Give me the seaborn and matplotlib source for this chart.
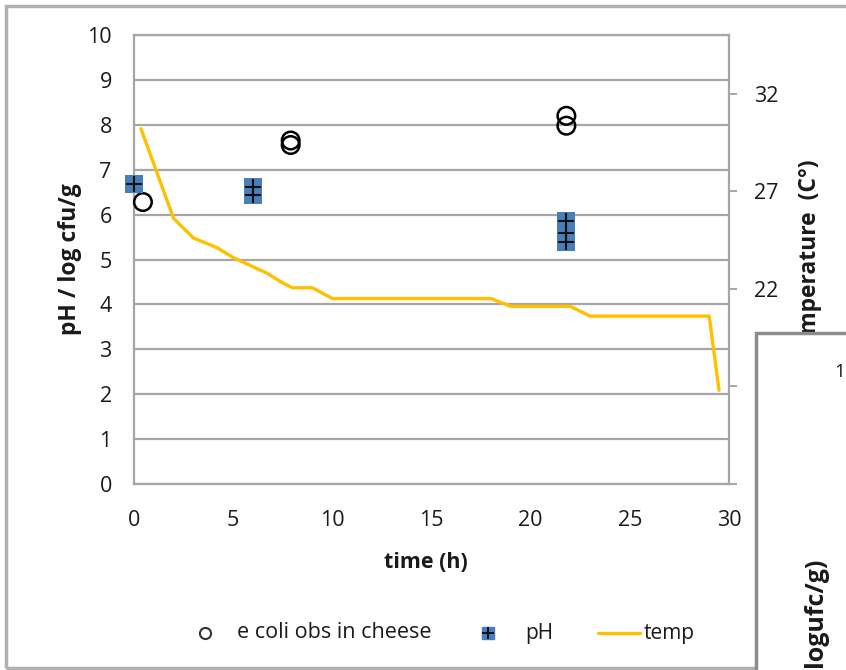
import matplotlib
matplotlib.use("Agg")
import matplotlib.pyplot as plt
import seaborn as sns
from matplotlib.lines import Line2D
from matplotlib.patches import Rectangle

# E. coli counts observed in cheese (log cfu/g)
ecoli_time = [0.45, 7.9, 7.9, 21.8, 21.8]
ecoli_log = [6.28, 7.65, 7.55, 8.2, 7.98]

# pH readings
ph_time = [0.0, 6.0, 6.0, 21.8, 21.8, 21.8]
ph_value = [6.68, 6.61, 6.44, 5.85, 5.6, 5.4]

# cheese temperature (°C) over time
temp_time = [0.35, 2, 3, 4.2, 5, 5.85, 6.7, 7.5, 8, 9, 10, 18, 19, 22, 23, 29, 29.5]
temp_value = [30.2, 25.6, 24.6, 24.1, 23.6, 23.2, 22.8, 22.3, 22.05, 22.05,
              21.5, 21.5, 21.1, 21.1, 20.6, 20.6, 16.8]

x_ticks = [0, 5, 10, 15, 20, 25, 30]
left_ticks = list(range(0, 11))
right_ticks = [12, 17, 22, 27, 32]
legend_labels = ["e coli obs in cheese", "pH", "temp"]

sns.set_style("white")
plt.rcParams["font.family"] = ["Open Sans", "DejaVu Sans"]

GRID = "#a6a6a6"
TXT = "#1a1a1a"
BLUE = "#4a7ebb"
GOLD = "#FFC000"
TICK_FS = 15.5
LABEL_FS = 15

W, H = 846, 670
fig = plt.figure(figsize=(W / 100, H / 100), dpi=100)
fig.patch.set_facecolor("white")

ax = fig.add_axes([134 / W, 1 - 484 / H, (729 - 134) / W, (484 - 35) / H])

# observations
sns.scatterplot(x=ecoli_time, y=ecoli_log, ax=ax, marker="o", s=160,
                facecolors="none", edgecolor="black", linewidth=1.8,
                zorder=4, clip_on=False)
sns.scatterplot(x=ph_time, y=ph_value, ax=ax, marker="s", s=150,
                color=BLUE, edgecolor=BLUE, linewidth=0, zorder=4, clip_on=False)
sns.scatterplot(x=ph_time, y=ph_value, ax=ax, marker="+", s=130,
                color="#111111", linewidth=1.5, zorder=5, clip_on=False)

ax.set_xlim(0, 30)
ax.set_ylim(0, 10)
ax.set_xticks(x_ticks)
ax.set_yticks(left_ticks)
ax.grid(axis="y", color=GRID, linewidth=1.6)
ax.grid(axis="x", visible=False)
ax.set_axisbelow(True)
for sp in ax.spines.values():
    sp.set_visible(True)
    sp.set_color(GRID)
    sp.set_linewidth(1.6)
ax.tick_params(axis="both", length=0, labelsize=TICK_FS, labelcolor=TXT)
ax.tick_params(axis="y", pad=16)
ax.tick_params(axis="x", pad=19)

ax.set_xlabel("time (h)", fontsize=LABEL_FS + 0.5, fontweight="bold", color=TXT)
ax.xaxis.set_label_coords(0.49, -0.151)
ax.set_ylabel("pH / log cfu/g", fontsize=LABEL_FS + 1.5, fontweight="bold", color=TXT)
ax.yaxis.set_label_coords(-0.0874, 0.5)

# temperature on the secondary axis
ax2 = ax.twinx()
sns.lineplot(x=temp_time, y=temp_value, ax=ax2, color=GOLD, linewidth=2.4)
ax2.set_ylim(12, 35)
ax2.set_yticks(right_ticks)
ax2.grid(False)
for sp in ax2.spines.values():
    sp.set_visible(False)
ax2.tick_params(axis="y", direction="out", length=6, width=1.4, color=GRID,
                labelsize=TICK_FS, labelcolor=TXT, pad=12, right=True)
ax2.set_ylabel("Temperature  (C°)", fontsize=LABEL_FS + 1.5, fontweight="bold",
               color=TXT)
ax2.yaxis.set_label_coords(1.116, 0.5)

# legend row along the bottom
ly = 1 - 633 / H
fig.add_artist(Line2D([205 / W], [ly], marker="o", linestyle="none", markersize=8,
                      markerfacecolor="none", markeredgecolor="#333333",
                      markeredgewidth=1.5, transform=fig.transFigure))
fig.text(237 / W, ly, legend_labels[0], ha="left", va="center",
         fontsize=LABEL_FS + 0.5, color=TXT)
fig.add_artist(Line2D([488 / W], [ly], marker="s", linestyle="none", markersize=9,
                      markerfacecolor=BLUE, markeredgecolor=BLUE,
                      transform=fig.transFigure))
fig.add_artist(Line2D([488 / W], [ly], marker="+", linestyle="none", markersize=8,
                      markeredgecolor="#111111", markeredgewidth=1.4,
                      transform=fig.transFigure))
fig.text(525 / W, ly, legend_labels[1], ha="left", va="center",
         fontsize=LABEL_FS, color=TXT)
fig.add_artist(Line2D([598 / W, 640 / W], [ly, ly], color=GOLD, linewidth=2.4,
                      transform=fig.transFigure))
fig.text(644 / W, ly, legend_labels[2], ha="left", va="center",
         fontsize=LABEL_FS, color=TXT)

# outer chart frame
fig.add_artist(Rectangle((6 / W, 2 / H), 2.0, (668 - 6) / H,
                         transform=fig.transFigure, facecolor="none",
                         edgecolor="#b0b0b0", linewidth=2.5, zorder=1))

# neighbouring chart panel overlapping the corner
fig.add_artist(Rectangle((756 / W, -0.05), 1.0, (670 - 333) / H + 0.05,
                         transform=fig.transFigure, facecolor="white",
                         edgecolor="#8c8c8c", linewidth=2.5, zorder=10))
fig.text(834 / W, 1 - 372 / H, "1", ha="left", va="center",
         fontsize=TICK_FS - 2, color=TXT, zorder=11)
fig.text(815 / W, 1 - 667 / H, "logufc/g)", rotation=90, rotation_mode="anchor",
         ha="left", va="center", fontsize=18, fontweight="bold",
         color=TXT, zorder=11)

fig.savefig("out.png", dpi=100, facecolor="white")
